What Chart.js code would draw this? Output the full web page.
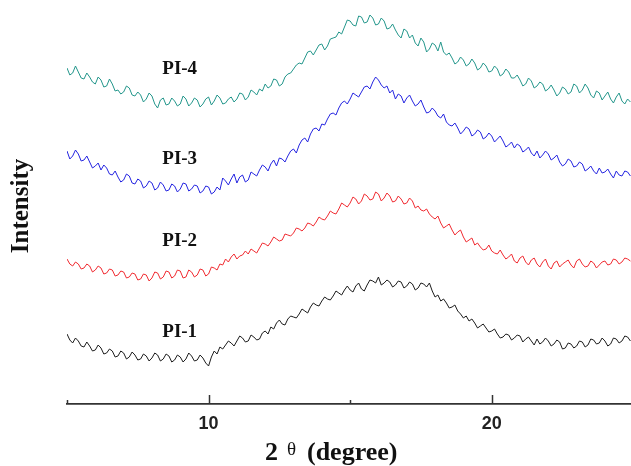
<!DOCTYPE html>
<html>
<head>
<meta charset="utf-8">
<script src="https://cdn.jsdelivr.net/npm/chart.js@4.4.1/dist/chart.umd.min.js"></script>
<style>
  html, body { margin: 0; padding: 0; background: #ffffff; overflow: hidden; }
  #c { display: block; }
</style>
</head>
<body>
<canvas id="c" width="631" height="466"></canvas>
<script>
// 2θ angles (degree)
const angles = [
  5.0,5.1,5.2,5.3,5.4,5.5,5.6,5.7,5.8,5.9,
  6.0,6.1,6.2,6.3,6.4,6.5,6.6,6.7,6.8,6.9,
  7.0,7.1,7.2,7.3,7.4,7.5,7.6,7.7,7.8,7.9,
  8.0,8.1,8.2,8.3,8.4,8.5,8.6,8.7,8.8,8.9,
  9.0,9.1,9.2,9.3,9.4,9.5,9.6,9.7,9.8,9.9,
  10.0,10.1,10.2,10.3,10.4,10.5,10.6,10.7,10.8,10.9,
  11.0,11.1,11.2,11.3,11.4,11.5,11.6,11.7,11.8,11.9,
  12.0,12.1,12.2,12.3,12.4,12.5,12.6,12.7,12.8,12.9,
  13.0,13.1,13.2,13.3,13.4,13.5,13.6,13.7,13.8,13.9,
  14.0,14.1,14.2,14.3,14.4,14.5,14.6,14.7,14.8,14.9,
  15.0,15.1,15.2,15.3,15.4,15.5,15.6,15.7,15.8,15.9,
  16.0,16.1,16.2,16.3,16.4,16.5,16.6,16.7,16.8,16.9,
  17.0,17.1,17.2,17.3,17.4,17.5,17.6,17.7,17.8,17.9,
  18.0,18.1,18.2,18.3,18.4,18.5,18.6,18.7,18.8,18.9,
  19.0,19.1,19.2,19.3,19.4,19.5,19.6,19.7,19.8,19.9,
  20.0,20.1,20.2,20.3,20.4,20.5,20.6,20.7,20.8,20.9,
  21.0,21.1,21.2,21.3,21.4,21.5,21.6,21.7,21.8,21.9,
  22.0,22.1,22.2,22.3,22.4,22.5,22.6,22.7,22.8,22.9,
  23.0,23.1,23.2,23.3,23.4,23.5,23.6,23.7,23.8,23.9,
  24.0,24.1,24.2,24.3,24.4,24.5,24.6,24.7,24.8,24.9
];

// Intensity (arbitrary units, curves stacked with offsets)
const pi4 = [
  336,329,331,338,332,326,325,331,327,322, 320,327,324,317,318,325,320,313,314,310,
  312,318,316,309,308,312,309,302,305,311, 308,300,296,304,306,299,300,306,303,298,
  300,308,305,298,301,306,304,297,300,305, 307,299,303,309,306,300,301,305,307,302,
  305,311,310,304,307,314,312,309,315,313, 320,316,318,325,324,318,320,327,330,331,
  335,339,341,340,346,352,353,349,354,359, 360,354,358,365,366,367,372,370,377,384,
  383,379,378,388,387,381,382,389,386,379, 380,386,383,375,376,380,374,369,366,375,
  373,366,369,361,358,366,362,352,355,361, 359,353,362,352,349,351,346,340,342,347,
  344,338,340,345,341,334,336,341,338,332, 333,338,335,328,330,335,332,326,326,329,
  324,318,320,326,323,316,318,322,320,313, 315,319,314,308,311,317,315,310,312,320,
  318,311,314,320,316,309,306,313,311,304, 308,312,305,301,307,311,303,300,305,302
];
const pi3 = [
  253,245,248,254,250,243,244,248,242,236, 238,241,234,239,236,230,229,233,227,222,
  224,230,228,221,220,225,223,216,218,223, 221,214,216,222,219,213,214,220,218,212,
  215,221,220,213,215,219,218,211,213,218, 217,210,212,217,214,226,223,219,225,230,
  221,227,229,222,224,232,230,228,234,239, 237,233,240,244,238,246,245,242,248,253,
  255,251,259,264,266,262,270,275,276,273, 280,279,285,290,291,289,296,301,303,300,
  305,311,309,307,312,317,318,315,322,327, 324,319,316,318,311,314,305,310,308,301,
  306,309,303,298,300,304,297,291,292,296, 293,288,286,290,282,279,278,281,276,270,
  273,277,275,268,270,274,272,265,267,271, 268,262,265,268,263,257,259,262,256,260,
  258,252,254,257,251,248,253,246,249,253, 250,244,246,249,242,238,240,245,243,237,
  238,242,240,233,235,238,233,230,236,231, 232,235,230,226,233,229,228,233,232,228
];
const pi2 = [
  145,140,138,142,140,135,136,140,138,132, 134,138,136,130,131,135,134,128,129,133,
  132,126,127,131,130,124,125,130,129,123, 126,132,131,125,127,133,132,126,128,134,
  133,126,127,134,132,127,129,135,134,128, 130,137,136,134,140,139,145,142,147,150,
  145,148,149,153,150,155,153,151,156,161, 160,158,162,167,165,163,164,170,169,168,
  171,176,175,173,176,181,180,178,182,187, 185,184,188,193,191,190,195,201,199,197,
  201,207,205,200,203,210,208,204,205,212, 210,203,206,211,208,202,203,208,205,200,
  201,206,203,196,198,194,193,195,190,187, 185,188,181,176,178,180,174,169,172,174,
  167,162,164,166,159,161,157,154,155,159, 153,151,150,154,149,145,147,150,143,141,
  146,148,142,139,144,146,140,137,142,145, 138,135,141,143,137,140,142,144,139,136,
  143,145,140,137,138,143,141,136,139,142, 143,139,140,145,144,140,142,146,145,143
];
const pi1 = [
  70,64,61,66,63,58,57,62,58,53, 54,59,56,50,51,55,53,47,48,53,
  51,45,47,52,49,44,45,50,48,43, 46,51,49,43,45,50,48,42,44,49,
  47,42,45,51,48,43,44,49,46,41, 38,47,53,50,57,55,59,63,61,58,
  63,68,66,62,63,69,67,64,65,71, 73,70,77,75,81,84,80,79,85,88,
  87,86,90,95,93,91,97,101,99,98, 103,107,105,104,108,113,111,109,114,118,
  114,112,118,121,115,113,119,124,123,121, 127,119,121,124,122,117,119,123,122,116,
  118,122,120,114,116,121,120,117,121,113, 107,109,103,105,101,96,97,99,93,90,
  86,88,83,85,81,76,78,80,76,72, 73,75,70,66,67,70,69,64,66,69,
  68,62,65,67,63,59,65,60,62,66, 63,58,60,64,62,55,56,61,60,56,
  58,63,62,57,59,65,64,60,61,66, 63,58,60,66,65,61,63,68,67,63
];

const seriesNames = ['PI-4', 'PI-3', 'PI-2', 'PI-1'];
const seriesColors = ['#23968b', '#2424e0', '#f02a30', '#1c1c1c'];
const seriesValues = [pi4, pi3, pi2, pi1];
// curve label anchors (2θ, intensity)
const labelX = [8.98, 8.98, 8.98, 8.98];
const labelY = [335, 245, 163, 72];
const xTickLabels = [10, 20];
const majorTicks = [10, 20];
const minorTicks = [5, 15, 25];

const datasets = seriesValues.map((vals, i) => ({
  label: seriesNames[i],
  data: vals.map((v, j) => ({ x: angles[j], y: v })),
  borderColor: seriesColors[i],
  borderWidth: 1,
  pointRadius: 0,
  fill: false,
  tension: 0
}));

const decor = {
  id: 'decor',
  afterDraw(chart) {
    const ctx = chart.ctx;
    const xs = chart.scales.x, ys = chart.scales.y;
    const bottom = chart.chartArea.bottom;
    ctx.save();
    // inward tick marks
    ctx.strokeStyle = '#333';
    ctx.lineWidth = 1.5;
    const drawTick = (v, len) => {
      const px = Math.round(xs.getPixelForValue(v)) + 0.5;
      if (px > chart.width + 2) return;
      ctx.beginPath();
      ctx.moveTo(px, bottom);
      ctx.lineTo(px, bottom - len);
      ctx.stroke();
    };
    majorTicks.forEach(v => drawTick(v, 9));
    minorTicks.forEach(v => drawTick(v, 4));

    // series labels
    ctx.fillStyle = '#111';
    ctx.font = 'bold 19px "Liberation Serif", "Times New Roman", serif';
    ctx.textAlign = 'center';
    ctx.textBaseline = 'middle';
    seriesNames.forEach((n, i) => {
      ctx.fillText(n, xs.getPixelForValue(labelX[i]), ys.getPixelForValue(labelY[i]));
    });

    // y axis title
    ctx.save();
    ctx.translate(22, 206);
    ctx.rotate(-Math.PI / 2);
    ctx.font = 'bold 25px "Liberation Serif", "Times New Roman", serif';
    ctx.textAlign = 'center';
    ctx.textBaseline = 'middle';
    ctx.fillText('Intensity', 0, 0);
    ctx.restore();

    // x axis title: "2 θ (degree)"
    ctx.textAlign = 'left';
    ctx.textBaseline = 'alphabetic';
    ctx.font = 'bold 26px "Liberation Serif", "Times New Roman", serif';
    ctx.fillText('2', 265, 460);
    ctx.font = '19px "Liberation Serif", "Times New Roman", serif';
    ctx.fillText('θ', 287, 455);
    ctx.font = 'bold 26px "Liberation Serif", "Times New Roman", serif';
    ctx.fillText('(degree)', 307, 460);
    ctx.restore();
  }
};

new Chart(document.getElementById('c'), {
  type: 'line',
  data: { datasets },
  options: {
    responsive: false,
    animation: false,
    layout: { padding: { left: 67, right: 0, top: 4, bottom: 0 } },
    plugins: { legend: { display: false }, tooltip: { enabled: false }, title: { display: false } },
    scales: {
      x: {
        type: 'linear',
        min: 5,
        max: 24.92,
        grid: { display: false, drawTicks: false },
        border: { display: true, color: '#333', width: 1.8 },
        afterBuildTicks: (s) => { s.ticks = xTickLabels.map(v => ({ value: v })); },
        afterFit: (s) => { s.height = 62; },
        ticks: {
          padding: 9,
          color: '#222',
          font: { family: '"Liberation Sans", Arial, sans-serif', size: 18, weight: 'bold' },
          callback: (v) => String(v)
        }
      },
      y: { display: false, min: 0, max: 400 }
    }
  },
  plugins: [decor]
});
</script>
</body>
</html>
